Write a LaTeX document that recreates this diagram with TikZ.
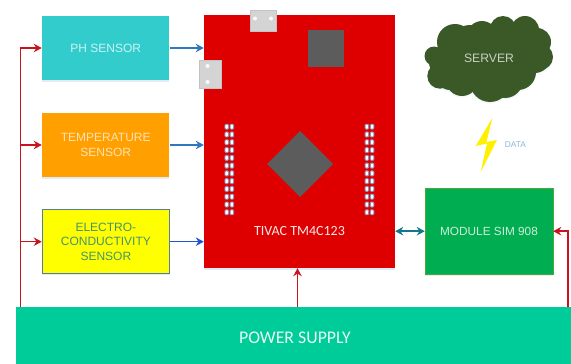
\documentclass[tikz,border=0pt]{standalone}
\usepackage{fontspec}
\setmainfont{Liberation Sans}
\newfontfamily\calib{Carlito}
\usetikzlibrary{arrows.meta,shadows,calc}
\definecolor{phc}{HTML}{33CCCC}
\definecolor{tempc}{HTML}{FF9F00}
\definecolor{boardc}{HTML}{DE0000}
\definecolor{modc}{HTML}{00AD50}
\definecolor{powc}{HTML}{00CC99}
\definecolor{cloudc}{HTML}{3B5926}
\definecolor{grayc}{HTML}{5C5C5C}
\definecolor{connc}{HTML}{D4D4D4}
\definecolor{redl}{HTML}{C8141E}
\definecolor{bluel}{HTML}{2F78BE}
\definecolor{teall}{HTML}{14788C}
\definecolor{pinedge}{HTML}{8A94B8}
\definecolor{ecfill}{RGB}{255,255,0}
\definecolor{boltc}{RGB}{255,240,0}
\tikzset{
  x=1pt,y=-1pt,
  softshadow/.style={drop shadow={shadow xshift=0pt,shadow yshift=-1.5pt,fill=bluel,opacity=.15}},
  blockbox/.style={minimum width=127.5pt,minimum height=64pt,inner sep=0pt,align=center,font=\fontsize{12}{14.5}\selectfont,softshadow},
  palebox/.style={blockbox,text=white,text opacity=.8},
  redarrow/.style={draw=redl,line width=1.5pt,-{Stealth[length=8pt,width=8.5pt]}},
  redline/.style={draw=redl,line width=1.5pt},
  bluearrow/.style={draw=bluel,line width=1.5pt,-{Stealth[length=8pt,width=8.5pt]}},
  tealarrow/.style={draw=teall,line width=1.5pt,{Stealth[length=8pt,width=8.5pt]}-{Stealth[length=8pt,width=8.5pt]}},
  conn/.style={fill=connc,draw=connc!80!gray,line width=.5pt,inner sep=0pt},
  chip/.style={fill=grayc,inner sep=0pt},
  pin/.style={fill=white,draw=pinedge,line width=.9pt,rounded corners=1pt,inner sep=0pt,minimum width=3.5pt,minimum height=5pt},
  cloudpart/.style={fill=cloudc,draw=none},
}
\begin{document}
\begin{tikzpicture}
\useasboundingbox (0,0) rectangle (571,364);
% board
\node[fill=boardc,minimum width=191pt,minimum height=253pt,inner sep=0pt,softshadow] (board) at (299.5,141.5) {};
\node[text=white,text opacity=.9,font=\calib\fontsize{14}{16}\selectfont,inner sep=0pt] (boardlabel) at (299.5,231) {TIVAC TM4C123};
\node[conn,minimum width=26pt,minimum height=21pt] (usbtop) at (263,21) {};
\node[conn,minimum width=22pt,minimum height=28pt] (usbleft) at (210.5,74) {};
\foreach \p/\q in {255/18.5,271/18.5}{\fill[white!90!connc] (\p,\q) circle (2pt);}
\foreach \p/\q in {207.5/66,207.5/82}{\fill[white!90!connc] (\p,\q) circle (2pt);}
\node[chip,minimum width=36pt,minimum height=37pt] (chipa) at (325.5,48.5) {};
\fill[grayc] (300,131) -- (333,164) -- (300,197) -- (267,164) -- cycle;
\foreach \i in {0,...,11}{
  \node[pin] at (226.7,126.7+7.78*\i) {};
  \node[pin] at (231.9,126.7+7.78*\i) {};
  \node[pin] at (366.9,126.7+7.78*\i) {};
  \node[pin] at (372.1,126.7+7.78*\i) {};
}
% sensors
\node[blockbox,fill=phc,text=white,text opacity=.75] (ph) at (105.7,48) {PH SENSOR};
\node[blockbox,fill=tempc,text=white,text opacity=.7] (temp) at (105.7,145) {TEMPERATURE\\SENSOR};
\node[blockbox,fill=ecfill,draw=bluel!50!gray,line width=.8pt,text=teall!80!yellow] (ec) at (105.9,241.7) {ELECTRO-\\CONDUCTIVITY\\SENSOR};
% module and power
\node[palebox,fill=modc,minimum width=128pt,minimum height=86.5pt,draw=modc!70!tempc,line width=.4pt,font=\fontsize{11.8}{14}\selectfont] (mod) at (489,231.2) {MODULE SIM 908};
\node[fill=powc,minimum width=555pt,minimum height=57pt,inner sep=0pt] (pow) at (293.5,335.5) {};
\node[text=white,text opacity=.9,font=\calib\fontsize{17.8}{20}\selectfont,inner sep=0pt] (powlabel) at (295,338) {POWER SUPPLY};
% cloud
\foreach \cx/\cy/\r in {
  434/56/9.5, 440/76/12.7, 455/42/18, 462/80/16, 482/36/15, 503/29/13, 525/30/14,
  537/42/14, 540/57/13, 518/72/18, 490/82/20, 488/57/30, 462/57/23, 515/50/23,
  445/62/16, 470/45/20, 505/42/18, 530/48/18, 535/58/15, 450/76/14, 505/80/18}{
  \fill[bluel,opacity=.05] (\cx,\cy+1.8) circle (\r);
}
\foreach \cx/\cy/\r in {
  434/56/9.5, 440/76/12.7, 455/42/18, 462/80/16, 482/36/15, 503/29/13, 525/30/14,
  537/42/14, 540/57/13, 518/72/18, 490/82/20, 488/57/30, 462/57/23, 515/50/23,
  445/62/16, 470/45/20, 505/42/18, 530/48/18, 535/58/15, 450/76/14, 505/80/18}{
  \fill[cloudpart] (\cx,\cy) circle (\r);
}
\node[text=white,text opacity=.72,font=\fontsize{12.2}{14}\selectfont,inner sep=0pt] (server) at (489,58.5) {SERVER};
% lightning and label
\fill[boltc] (492.3,118) -- (475.7,146) -- (487,143.5) -- (480.7,172) -- (497,140) -- (486.5,142) -- cycle;
\node[text=bluel!55!white,font=\fontsize{8.4}{9}\selectfont,inner sep=0pt] (data) at (515.5,144.3) {DATA};
% connectors
\coordinate (busbottom) at ($(pow.north west)+(4.5,0)$);
\coordinate (busph) at (busbottom |- ph.west);
\coordinate (bustemp) at (busbottom |- temp.west);
\coordinate (busec) at (busbottom |- ec.west);
\draw[redline] (busbottom) -- (busph);
\draw[redarrow] (busph) -- (ph.west);
\draw[redarrow] (bustemp) -- (temp.west);
\draw[redarrow] (busec) -- (ec.west);
\draw[bluearrow] (ph.east) -- (ph.east -| board.west);
\draw[bluearrow] (temp.east) -- (temp.east -| board.west);
\draw[bluearrow,draw=bluel!70!blue] (ec.east) -- (ec.east -| board.west);
\draw[tealarrow] (mod.west -| board.east) -- (mod.west);
\coordinate (powup) at (297.5,307);
\draw[redarrow] (powup) -- (powup |- board.south);
\coordinate (powright) at (568,307);
\draw[redarrow] (powright) -- (powright |- mod.east) -- (mod.east);
\end{tikzpicture}
\end{document}
